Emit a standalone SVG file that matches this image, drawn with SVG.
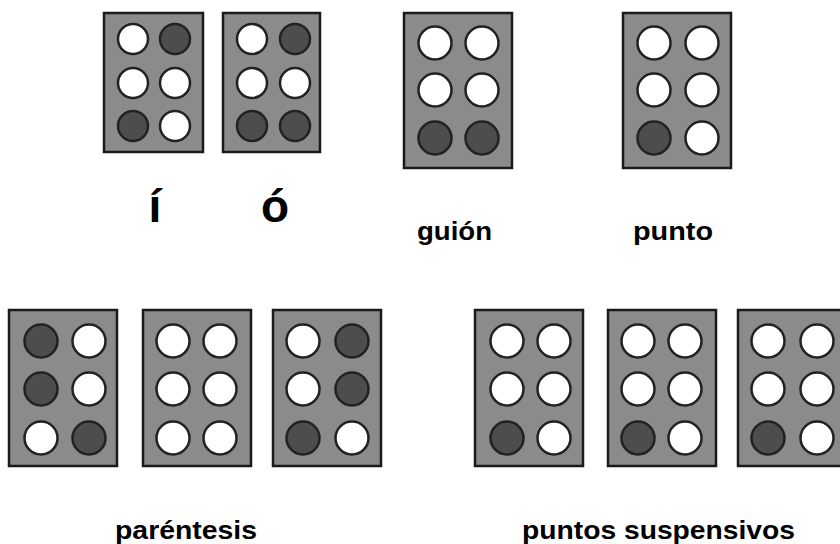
<svg xmlns="http://www.w3.org/2000/svg" width="840" height="544" viewBox="0 0 840 544">
<style>
.cell{fill:#8b8b8b;stroke:#1a1a1a;stroke-width:2.5}
.w{fill:#ffffff;stroke:#222;stroke-width:2.5}
.d{fill:#4d4d4d;stroke:#222;stroke-width:2.5}
.big{font-family:"Liberation Sans",Arial,sans-serif;font-weight:bold;font-size:46px;fill:#000}
.lbl{font-family:"Liberation Sans",Arial,sans-serif;font-weight:bold;font-size:25px;fill:#000}
</style>
<rect width="840" height="544" fill="#fff"/>
<g id="cell-i">
<rect class="cell" x="104" y="13" width="99" height="139"/>
<circle class="w" cx="133" cy="39" r="15"/><circle class="d" cx="175" cy="39" r="15"/>
<circle class="w" cx="133" cy="83" r="15"/><circle class="w" cx="175" cy="83" r="15"/>
<circle class="d" cx="133" cy="126" r="15"/><circle class="w" cx="175" cy="126" r="15"/>
</g>
<g id="cell-o">
<rect class="cell" x="223" y="13" width="97" height="139"/>
<circle class="w" cx="252" cy="39" r="15"/><circle class="d" cx="295" cy="39" r="15"/>
<circle class="w" cx="252" cy="83" r="15"/><circle class="w" cx="295" cy="83" r="15"/>
<circle class="d" cx="252" cy="126" r="15"/><circle class="d" cx="295" cy="126" r="15"/>
</g>
<text class="big" x="155" y="222" text-anchor="middle">í</text>
<text class="big" x="275" y="222" text-anchor="middle">ó</text>
<g id="cell-guion">
<rect class="cell" x="404" y="13" width="108" height="155"/>
<circle class="w" cx="435" cy="43" r="16.5"/><circle class="w" cx="482" cy="43" r="16.5"/>
<circle class="w" cx="435" cy="90" r="16.5"/><circle class="w" cx="482" cy="90" r="16.5"/>
<circle class="d" cx="435" cy="138" r="16.5"/><circle class="d" cx="482" cy="138" r="16.5"/>
</g>
<text class="lbl" x="417" y="240" textLength="75" lengthAdjust="spacingAndGlyphs">guión</text>
<g id="cell-punto">
<rect class="cell" x="623" y="13" width="108" height="155"/>
<circle class="w" cx="654" cy="43" r="16.5"/><circle class="w" cx="702" cy="43" r="16.5"/>
<circle class="w" cx="654" cy="90" r="16.5"/><circle class="w" cx="702" cy="90" r="16.5"/>
<circle class="d" cx="654" cy="138" r="16.5"/><circle class="w" cx="702" cy="138" r="16.5"/>
</g>
<text class="lbl" x="633" y="240" textLength="80" lengthAdjust="spacingAndGlyphs">punto</text>
<g id="cell-par1">
<rect class="cell" x="9" y="310" width="108" height="156"/>
<circle class="d" cx="41" cy="341" r="16.5"/><circle class="w" cx="89" cy="341" r="16.5"/>
<circle class="d" cx="41" cy="389" r="16.5"/><circle class="w" cx="89" cy="389" r="16.5"/>
<circle class="w" cx="41" cy="438" r="16.5"/><circle class="d" cx="89" cy="438" r="16.5"/>
</g>
<g id="cell-par2">
<rect class="cell" x="143" y="310" width="108" height="156"/>
<circle class="w" cx="173" cy="341" r="16.5"/><circle class="w" cx="220" cy="341" r="16.5"/>
<circle class="w" cx="173" cy="389" r="16.5"/><circle class="w" cx="220" cy="389" r="16.5"/>
<circle class="w" cx="173" cy="438" r="16.5"/><circle class="w" cx="220" cy="438" r="16.5"/>
</g>
<g id="cell-par3">
<rect class="cell" x="273" y="310" width="108" height="156"/>
<circle class="w" cx="303" cy="341" r="16.5"/><circle class="d" cx="352" cy="341" r="16.5"/>
<circle class="w" cx="303" cy="389" r="16.5"/><circle class="d" cx="352" cy="389" r="16.5"/>
<circle class="d" cx="303" cy="438" r="16.5"/><circle class="w" cx="352" cy="438" r="16.5"/>
</g>
<text class="lbl" x="115" y="539" textLength="142" lengthAdjust="spacingAndGlyphs">paréntesis</text>
<g id="cell-sus1">
<rect class="cell" x="475" y="310" width="108" height="156"/>
<circle class="w" cx="507" cy="341" r="16.5"/><circle class="w" cx="554" cy="341" r="16.5"/>
<circle class="w" cx="507" cy="389" r="16.5"/><circle class="w" cx="554" cy="389" r="16.5"/>
<circle class="d" cx="507" cy="438" r="16.5"/><circle class="w" cx="554" cy="438" r="16.5"/>
</g>
<g id="cell-sus2">
<rect class="cell" x="608" y="310" width="108" height="156"/>
<circle class="w" cx="638" cy="341" r="16.5"/><circle class="w" cx="685" cy="341" r="16.5"/>
<circle class="w" cx="638" cy="389" r="16.5"/><circle class="w" cx="685" cy="389" r="16.5"/>
<circle class="d" cx="638" cy="438" r="16.5"/><circle class="w" cx="685" cy="438" r="16.5"/>
</g>
<g id="cell-sus3">
<rect class="cell" x="738" y="310" width="108" height="156"/>
<circle class="w" cx="768" cy="341" r="16.5"/><circle class="w" cx="817" cy="341" r="16.5"/>
<circle class="w" cx="768" cy="389" r="16.5"/><circle class="w" cx="817" cy="389" r="16.5"/>
<circle class="d" cx="768" cy="438" r="16.5"/><circle class="w" cx="817" cy="438" r="16.5"/>
</g>
<text class="lbl" x="522" y="539" textLength="273" lengthAdjust="spacingAndGlyphs">puntos suspensivos</text>
</svg>
